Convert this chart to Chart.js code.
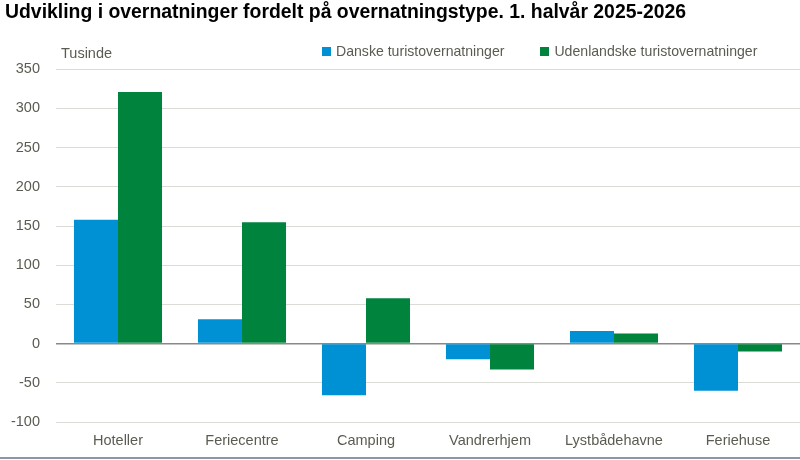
<!DOCTYPE html>
<html>
<head>
<meta charset="utf-8">
<script src="https://cdn.jsdelivr.net/npm/chart.js@4/dist/chart.umd.min.js"></script>
<style>
    body { margin: 0; background: #fff; }
    #wrap { position: relative; width: 800px; height: 457px; border-bottom: 2px solid #8b98a3; }
    #chart { display: block; }
    #legend { position: absolute; top: 43px; left: 322px; display: flex; white-space: nowrap; font: 14.1px "Liberation Sans", Arial, sans-serif; color: #5b5b52; }
    #legend .item { display: flex; align-items: center; margin-right: 36px; }
    #legend .box { width: 9px; height: 9px; margin-right: 5px; }
</style>
</head>
<body>
<div id="wrap">
    <canvas id="chart" width="800" height="457"></canvas>
    <div id="legend"></div>
</div>
<script>
const categories = ['Hoteller', 'Feriecentre', 'Camping', 'Vandrerhjem', 'Lystbådehavne', 'Feriehuse'];
const danske = [158, 31, -66, -20, 16, -60];
const udenlandske = [321, 155, 58, -33, 13, -10];
const yTicks = [-100, -50, 0, 50, 100, 150, 200, 250, 300, 350];

const textGray = '#5b5b52';
const font = { family: '"Liberation Sans", Arial, sans-serif', size: 14.5 };

const seriesList = [
    { label: 'Danske turistovernatninger', data: danske, color: '#0091d5' },
    { label: 'Udenlandske turistovernatninger', data: udenlandske, color: '#00843d' }
];

// "Tusinde" over the y axis
const unitLabel = {
    id: 'unitLabel',
    afterDraw(chart) {
        const ctx = chart.ctx;
        ctx.save();
        ctx.font = `${font.size}px ${font.family}`;
        ctx.fillStyle = textGray;
        ctx.textBaseline = 'middle';
        ctx.textAlign = 'left';
        ctx.fillText('Tusinde', chart.chartArea.left + 5, chart.chartArea.top - 15);
        ctx.restore();
    }
};

const ctx = document.getElementById('chart').getContext('2d');
const chart = new Chart(ctx, {
    type: 'bar',
    data: {
        labels: categories,
        datasets: seriesList.map(s => ({
            label: s.label,
            data: s.data,
            backgroundColor: s.color,
            borderWidth: 0,
            barPercentage: 1,
            categoryPercentage: 0.71
        }))
    },
    options: {
        responsive: false,
        animation: false,
        layout: { padding: { left: 5, right: 0, top: 0, bottom: 3 } },
        plugins: {
            legend: { display: false },
            tooltip: { enabled: false },
            title: {
                display: true,
                text: 'Udvikling i overnatninger fordelt på overnatningstype. 1. halvår 2025-2026',
                align: 'start',
                color: '#000',
                font: { family: font.family, size: 19.4, weight: 'bold' },
                padding: { top: 1, bottom: 45 }
            }
        },
        scales: {
            x: {
                grid: { display: false, drawTicks: false },
                border: { display: false },
                afterFit: axis => { axis.height = 32; },
                ticks: { color: textGray, font, padding: 10, maxRotation: 0 }
            },
            y: {
                min: -100,
                max: 350,
                afterBuildTicks: axis => { axis.ticks = yTicks.map(v => ({ value: v })); },
                afterFit: axis => { axis.width = 51; },
                grid: {
                    drawTicks: false,
                    color: c => c.tick.value === 0 ? '#8a8a85' : '#dcdcd6',
                    lineWidth: c => c.tick.value === 0 ? 1.5 : 1
                },
                border: { display: false },
                ticks: { color: textGray, font, padding: 16 }
            }
        }
    },
    plugins: [unitLabel]
});

const legendEl = document.getElementById('legend');
seriesList.forEach(s => {
    const item = document.createElement('div');
    item.className = 'item';
    item.innerHTML = `<span class="box" style="background:${s.color}"></span><span>${s.label}</span>`;
    legendEl.appendChild(item);
});
</script>
</body>
</html>
